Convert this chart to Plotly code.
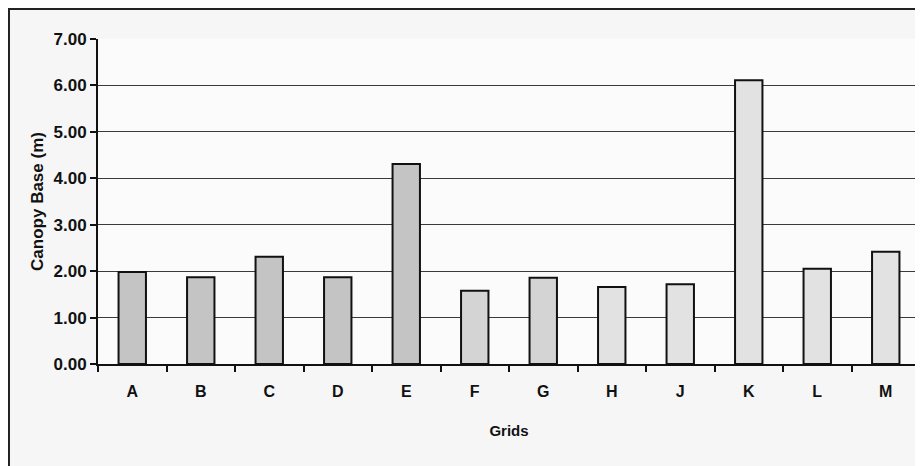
import plotly.graph_objects as go

# canopy base height per grid
grids = ["A", "B", "C", "D", "E", "F", "G", "H", "J", "K", "L", "M"]
canopy_base = [1.98, 1.87, 2.31, 1.87, 4.31, 1.58, 1.86, 1.66, 1.72, 6.11, 2.05, 2.42]
y_ticks = [0, 1, 2, 3, 4, 5, 6, 7]

# scanned shades: first group darker, rest lighter
bar_colors = ["#c4c4c4"] * 5 + ["#d4d4d4"] * 2 + ["#e2e2e2"] * 5

fnt = "Liberation Sans, Arial"

fig = go.Figure()
fig.add_trace(go.Bar(
    x=grids, y=canopy_base,
    marker=dict(color=bar_colors, line=dict(color="#111111", width=2)),
    width=0.4,
))

# page body has an 8px margin, so the figure is a bit smaller than the window
fig.update_layout(
    width=915, height=458,
    margin=dict(l=90, r=3, t=31, b=102),
    paper_bgcolor="#f6f6f6",
    plot_bgcolor="#fbfbfb",
    showlegend=False,
    font=dict(family=fnt, color="#111111"),
)

fig.update_yaxes(
    range=[0, 7], tickvals=y_ticks, tickformat=".2f",
    tickfont=dict(size=17, family=fnt, weight="bold"),
    showgrid=True, gridcolor="#3a3a3a", gridwidth=1.2,
    showline=True, linecolor="#111111", linewidth=2,
    ticks="outside", ticklen=6, tickwidth=1.5, tickcolor="#111111",
    zeroline=False,
    title=dict(text="<b>Canopy Base (m)</b>", font=dict(size=17, family=fnt), standoff=6),
)
fig.update_xaxes(
    tickfont=dict(size=16, family=fnt, weight="bold"),
    ticklabelstandoff=12,
    showline=True, linecolor="#111111", linewidth=2,
    ticks="outside", ticklen=6, tickwidth=1.5, tickcolor="#111111",
    tickson="boundaries",
    title=dict(text="<b>Grids</b>", font=dict(size=15, family=fnt), standoff=26),
)

# outer chart border and faint right edge of the plot area
fig.add_shape(type="rect", xref="paper", yref="paper",
              x0=-0.1083, x1=1.02, y0=-0.4, y1=1.0923,
              line=dict(color="#222222", width=2), layer="below")
fig.add_shape(type="line", xref="paper", yref="paper",
              x0=1, x1=1, y0=0, y1=1,
              line=dict(color="#999999", width=1, dash="dot"))

fig.write_html("out.html")
